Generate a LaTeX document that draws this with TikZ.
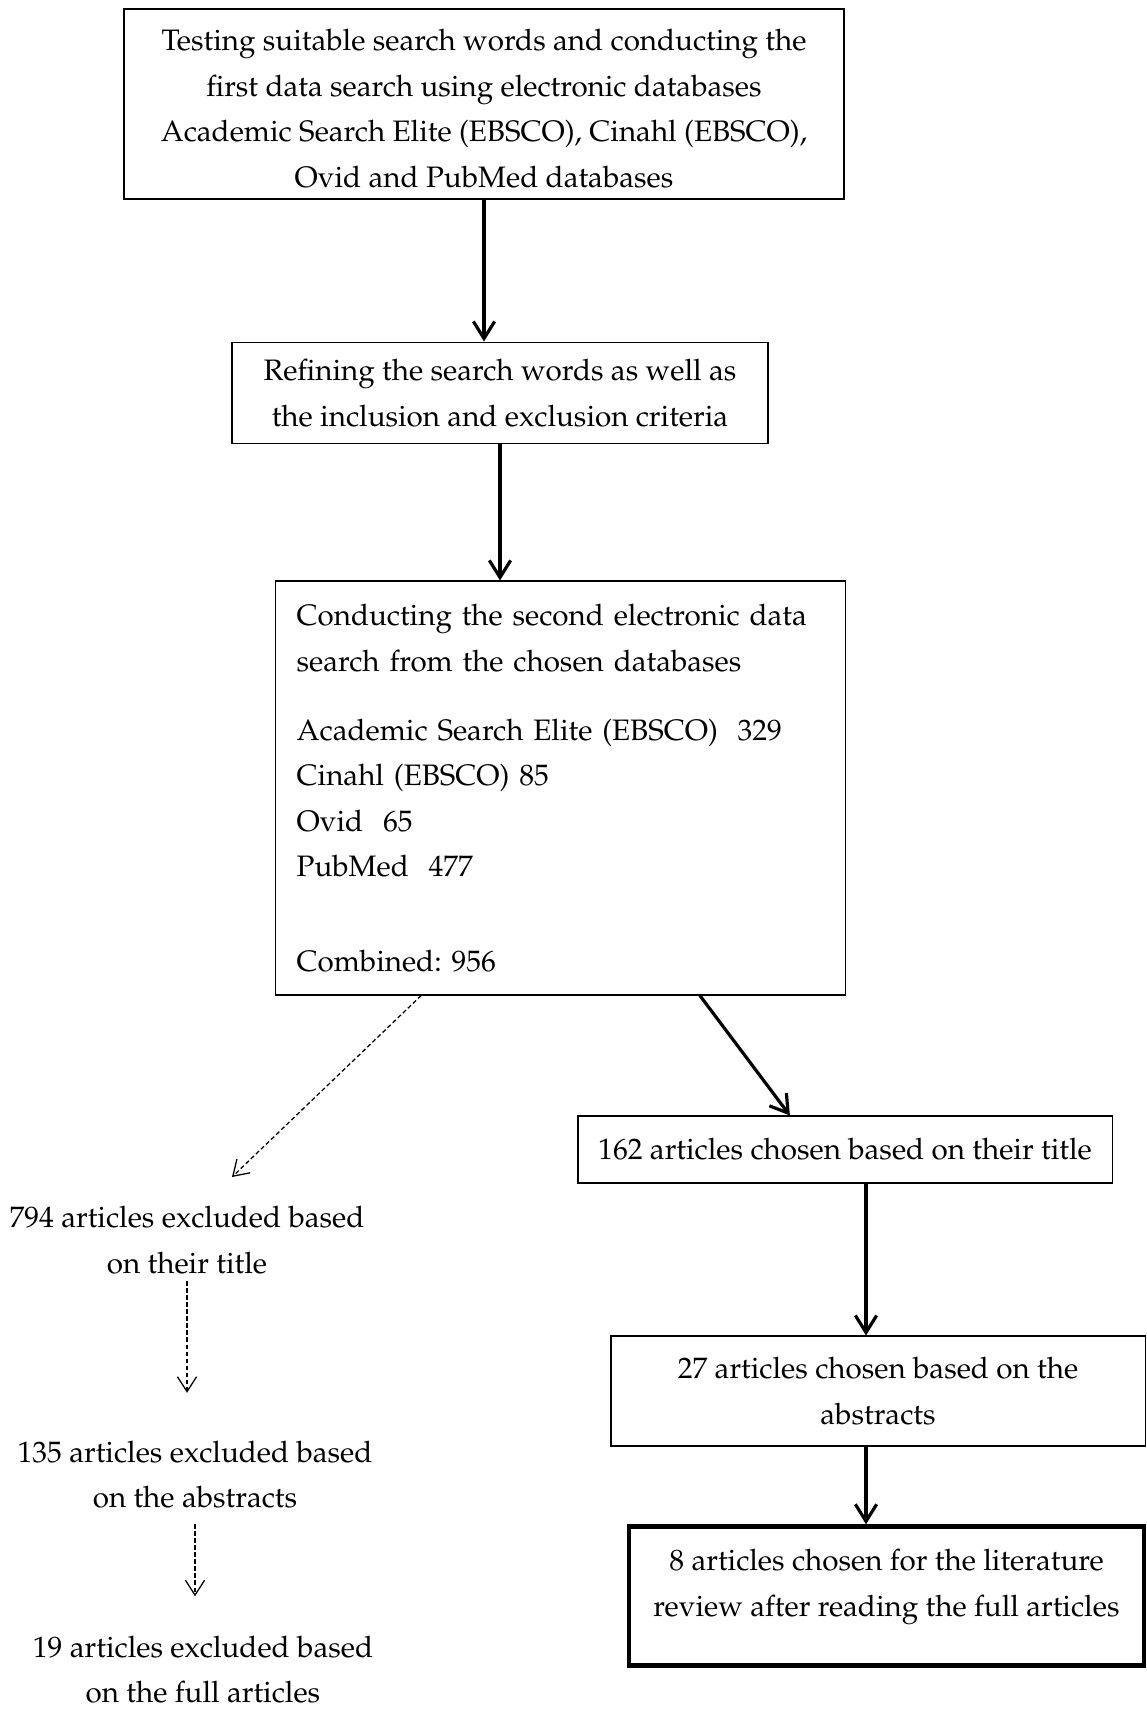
\documentclass[tikz,border=0pt]{standalone}
\usepackage[T1]{fontenc}
\usepackage{mathpazo}
\usepackage{tikz}
\usetikzlibrary{arrows.meta}
\usetikzlibrary{positioning}
\usetikzlibrary{calc}
\tikzstyle{line} = [draw, line width=1.5pt, -{Straight Barb[length=8pt, width=10pt]}]
\tikzstyle{dline} = [draw, line width=0.6pt, dash pattern=on 2pt off 1.3pt, -{Straight Barb[length=7pt, width=9pt]}]
\frenchspacing

\begin{document}
\begin{tikzpicture}[x=0.47pt, y=-0.47pt,
		internal/.style={draw, rectangle, line width=0.5pt, inner sep=4pt, align=center},
		excluded/.style={align=center},
		every node/.style={font=\fontsize{13.9}{21.4}\selectfont}]
		\useasboundingbox (0,0) rectangle (1146,1719);
		
		\node[internal, minimum width=338.4pt, minimum height=89.3pt](node1) at (484, 104) {\mbox{}\\[-6.8pt]Testing suitable search words and conducting the\\first data search using electronic databases\\Academic Search Elite (EBSCO), Cinahl (EBSCO),\\Ovid and PubMed databases};
		
		\node[internal, minimum width=251.9pt, minimum height=47.9pt](node2) at (500, 393) {Refining the search words as well as\\the inclusion and exclusion criteria};
		
		\node[internal, text width=248pt, inner xsep=10pt, minimum height=194.6pt, align=left](node3) at (560.5, 788) {Conducting the second electronic data\\search from the chosen databases\\[11.2pt]Academic Search Elite (EBSCO)~~329\\Cinahl (EBSCO) 85\\Ovid~~65\\PubMed~~477\\[22.9pt]Combined: 956};
		
		\node[internal, minimum width=251pt, minimum height=31.5pt](node4) at (845, 1149.5) {162 articles chosen based on their title};
		
		\node[internal, minimum width=251pt, minimum height=51.7pt](node5) at (878, 1391) {27 articles chosen based on the\\abstracts};
		
		\node[internal, line width=2.1pt, minimum width=242pt, minimum height=65.3pt](node6) at (886.5, 1596) {8 articles chosen for the literature\\review after reading the full articles\\[-9pt]\mbox{}};
		
		\node[excluded](excl1) at (187, 1240) {794 articles excluded based\\on their title};
		\node[excluded](excl2) at (195, 1474.5) {135 articles excluded based\\on the abstracts};
		\node[excluded](excl3) at (203, 1669.5) {19 articles excluded based\\on the full articles};
		
		\coordinate (tip1) at (232, 1177);
		\coordinate (c4) at ($(node4.south)+(21, 0)$);
		
		\draw[line] (node1.south) -- (node1.south |- node2.north);
		\draw[line] (node2.south) -- (node2.south |- node3.north);
		\draw[dline] ($(node3.south west)!0.256!(node3.south east)$) -- (tip1);
		\draw[line] ($(node3.south west)!0.744!(node3.south east)$) -- ($(node4.north west)!0.397!(node4.north east)$);
		\draw[line] (c4) -- (c4 |- node5.north);
		\draw[line] (c4 |- node5.south) -- (c4 |- node6.north);
		\draw[dline, shorten >=19pt] (excl1.south) -- (excl1.south |- excl2.north);
		\draw[dline, shorten <=4pt, shorten >=15pt] (excl2.south) -- (excl2.south |- excl3.north);
	\end{tikzpicture}
\end{document}
